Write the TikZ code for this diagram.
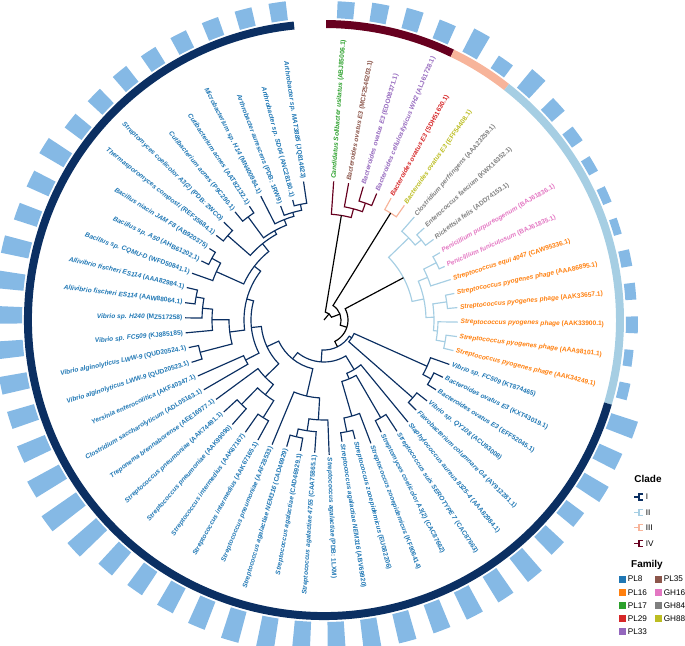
\documentclass[tikz,border=0pt]{standalone}
\usepackage{fontspec}
\setmainfont{Liberation Sans}
\usepackage{tikz}

\definecolor{cladeI}{HTML}{0B2F62}
\definecolor{cladeII}{HTML}{A6CEE3}
\definecolor{cladeIII}{HTML}{F7B49A}
\definecolor{cladeIV}{HTML}{67001F}
\definecolor{barBlue}{HTML}{85B9E5}
\definecolor{famPL8}{HTML}{1F77B4}
\definecolor{famPL16}{HTML}{FF7F0E}
\definecolor{famPL17}{HTML}{2CA02C}
\definecolor{famPL29}{HTML}{D62728}
\definecolor{famPL33}{HTML}{9467BD}
\definecolor{famPL35}{HTML}{8C564B}
\definecolor{famGH16}{HTML}{E377C2}
\definecolor{famGH84}{HTML}{7F7F7F}
\definecolor{famGH88}{HTML}{BCBD22}

\begin{document}
\begin{tikzpicture}[x=0.03cm, y=0.03cm,
    leaflabel/.style={inner sep=0.4pt, font=\fontsize{5.6}{6.5}\selectfont\bfseries},
    lineI/.style={draw=cladeI, line width=1pt},
    lineII/.style={draw=cladeII, line width=1pt},
    lineIII/.style={draw=cladeIII, line width=1pt},
    lineIV/.style={draw=cladeIV, line width=1pt},
    rootline/.style={draw=black, line width=1pt},
    ring/.style={line width=6.8pt},
    barfill/.style={fill=barBlue},
    legtitle/.style={font=\fontsize{8.5}{10}\selectfont\bfseries},
    legtext/.style={font=\fontsize{7}{8}\selectfont, inner sep=0.5pt}]

    \useasboundingbox (-324,-325) rectangle (361,320);
    \clip (-324,-325) rectangle (361,320);

    % leaf i sits at 86 - (i-1)*360/58 degrees
    \newcommand{\treeLeaf}[5]{%
        \pgfmathsetmacro{\leafA}{86-6.206897*(#1-1)}%
        \expandafter\xdef\csname treeAngt#1\endcsname{\leafA}%
        \expandafter\xdef\csname treeRadt#1\endcsname{#2}%
        \coordinate (t#1) at (\leafA:#2);%
        \pgfmathtruncatemacro{\leafSide}{cos(\leafA)<0 ? 1 : 0}%
        \ifnum\leafSide=1
            \pgfmathsetmacro{\leafRot}{\leafA+180}%
            \node[leaflabel, text=#3, anchor=east, rotate=\leafRot] (l#1) at (\leafA:#2+2) {\textit{#4} (#5)};%
        \else
            \node[leaflabel, text=#3, anchor=west, rotate=\leafA] (l#1) at (\leafA:#2+2) {\textit{#4} (#5)};%
        \fi}

    % inner node: name, child, child, radius, style
    \newcommand{\treeJoin}[5]{%
        \edef\joinA{\csname treeAng#2\endcsname}%
        \edef\joinB{\csname treeAng#3\endcsname}%
        \pgfmathsetmacro{\joinM}{(\joinA+\joinB)/2}%
        \expandafter\xdef\csname treeAng#1\endcsname{\joinM}%
        \expandafter\xdef\csname treeRad#1\endcsname{#4}%
        \coordinate (#1) at (\joinM:#4);%
        \draw[#5] (#2) -- (\joinA:#4) arc[start angle=\joinA, end angle=\joinB, radius=#4] -- (#3);}

    % bars
    \foreach \k/\len in {1/17,2/19,3/21,4/20,5/26,6/15,7/24,8/17,9/13,10/10,11/9,12/8,13/11,14/11,15/12,16/9,17/11,
        18/28,19/25,20/28,21/22,22/25,23/30,24/30,25/30,26/30,27/30,28/32,29/32,30/32,31/32,32/32,33/30,34/28,
        35/28,36/30,37/38,38/42,39/36,40/30,41/28,42/28,43/28,44/28,45/28,46/28,47/24,48/24,49/28,50/21,51/20,
        52/20,53/19,54/19,55/19,56/19,57/19} {
        \pgfmathsetmacro{\barS}{86-6.206897*(\k-1)-1.55}
        \pgfmathsetmacro{\barE}{86-6.206897*(\k-1)+1.55}
        \pgfmathsetmacro{\barOut}{302+\len}
        \fill[barfill] (\barS:302) arc[start angle=\barS, end angle=\barE, radius=302]
            -- (\barE:\barOut) arc[start angle=\barE, end angle=\barS, radius=\barOut] -- cycle;
    }

    % clade ring
    \draw[ring, cladeIV] (89.6:296) arc[start angle=89.6, end angle=64.3, radius=296];
    \draw[ring, cladeIII] (64.3:296) arc[start angle=64.3, end angle=51.9, radius=296];
    \draw[ring, cladeII] (51.9:296) arc[start angle=51.9, end angle=-16.4, radius=296];
    \draw[ring, cladeI] (-16.4:296) arc[start angle=-16.4, end angle=-264.2, radius=296];

    % leaves
    \treeLeaf{1}{139}{famPL17}{Candidatus Solibacter usitatus}{ABJ85006.1}
    \treeLeaf{2}{139}{famPL35}{Bacteroides ovatus E3}{MCF2546203.1}
    \treeLeaf{3}{139}{famPL33}{Bacteroides ovatus E3}{EDO08371.1}
    \treeLeaf{4}{137}{famPL33}{Bacteroides cellulosilyticus WH2}{ALJ61728.1}
    \treeLeaf{5}{139}{famPL29}{Bacteroides ovatus E3}{SDH51630.1}
    \treeLeaf{6}{140}{famGH88}{Bacteroides ovatus E3}{EFF54408.1}
    \treeLeaf{7}{137}{famGH84}{Clostridium perfringens}{AAA23259.1}
    \treeLeaf{8}{136}{famGH84}{Enterococcus faecium}{KWX16352.1}
    \treeLeaf{9}{136}{famGH84}{Rickettsia felis}{ADD74153.1}
    \treeLeaf{10}{134}{famGH16}{Penicillium purpureogenum}{BAJ61836.1}
    \treeLeaf{11}{132}{famGH16}{Penicillium funiculosum}{BAJ61835.1}
    \treeLeaf{12}{133}{famPL16}{Streptococcus equi 4047}{CAW95336.1}
    \treeLeaf{13}{133}{famPL16}{Streptococcus pyogenes phage}{AAA86895.1}
    \treeLeaf{14}{134}{famPL16}{Streptococcus pyogenes phage}{AAK33657.1}
    \treeLeaf{15}{134}{famPL16}{Streptococcus pyogenes phage}{AAK33900.1}
    \treeLeaf{16}{134}{famPL16}{Streptococcus pyogenes phage}{AAA98101.1}
    \treeLeaf{17}{133}{famPL16}{Streptococcus pyogenes phage}{AAK34249.1}
    \treeLeaf{18}{133}{famPL8}{Vibrio sp. FC509}{KT874465}
    \treeLeaf{19}{132}{famPL8}{Bacteroides ovatus E3}{KXT43019.1}
    \treeLeaf{20}{132}{famPL8}{Bacteroides ovatus E3}{EFF52045.1}
    \treeLeaf{21}{131}{famPL8}{Vibrio sp. QY108}{ACU93008}
    \treeLeaf{22}{129}{famPL8}{Flavobacterium columnare G4}{AY912281.1}
    \treeLeaf{23}{132}{famPL8}{Staphylococcus aureus 8325-4}{AAA82984.1}
    \treeLeaf{24}{133}{famPL8}{Streptococcus suis SEROTYPE 7}{CAC87663}
    \treeLeaf{25}{126}{famPL8}{Streptomyces coelicolor A3(2)}{CAC87662}
    \treeLeaf{26}{132}{famPL8}{Streptococcus zooepidemicus}{KF906414}
    \treeLeaf{27}{123}{famPL8}{Streptococcus zooepidemicus}{EU082206}
    \treeLeaf{28}{123}{famPL8}{Streptococcus agalactiae NEM316}{ABV69920}
    \treeLeaf{29}{135}{famPL8}{Streptococcus agalactiae}{PDB: 1LXM}
    \treeLeaf{30}{133}{famPL8}{Streptococcus agalactiae 4755}{CAA75865.1}
    \treeLeaf{31}{133}{famPL8}{Streptococcus agalactiae}{CAD46929.1}
    \treeLeaf{32}{132}{famPL8}{Streptococcus agalactiae NEM316}{CAD46929}
    \treeLeaf{33}{135}{famPL8}{Streptococcus pneumoniae}{AAF28533}
    \treeLeaf{34}{137}{famPL8}{Streptococcus intermedius}{AAK67165.1}
    \treeLeaf{35}{137}{famPL8}{Streptococcus intermedius}{AAK67167}
    \treeLeaf{36}{139}{famPL8}{Streptococcus pneumoniae}{AAK99090}
    \treeLeaf{37}{136}{famPL8}{Streptococcus pneumoniae}{AAK74491.1}
    \treeLeaf{38}{134}{famPL8}{Treponema brennaborense}{AEE16977.1}
    \treeLeaf{39}{139}{famPL8}{Clostridium saccharolyticum}{ADL05163.1}
    \treeLeaf{40}{138}{famPL8}{Yersinia enterocolitica}{AKF40347.1}
    \treeLeaf{41}{139}{famPL8}{Vibrio alginolyticus LWW-9}{QUD20523.1}
    \treeLeaf{42}{138}{famPL8}{Vibrio alginolyticus LWW-9}{QUD20524.1}
    \treeLeaf{43}{139}{famPL8}{Vibrio sp. FC509}{KJ885185}
    \treeLeaf{44}{139}{famPL8}{Vibrio sp. H240}{MZ517258}
    \treeLeaf{45}{140}{famPL8}{Allivibrio fischeri ES114}{AAW88064.1}
    \treeLeaf{46}{141}{famPL8}{Allivibrio fischeri ES114}{AAA82984.1}
    \treeLeaf{47}{140}{famPL8}{Bacillus sp. CQMU-D}{WFD50841.1}
    \treeLeaf{48}{136}{famPL8}{Bacillus sp. A50}{AHB61202.1}
    \treeLeaf{49}{135}{famPL8}{Bacillus niacin JAM F8}{AB920375}
    \treeLeaf{50}{137}{famPL8}{Thermasporomyces composti}{REF35684.1}
    \treeLeaf{51}{140}{famPL8}{Streptomyces coelicolor A3(2)}{PDB: 2WCO}
    \treeLeaf{52}{140}{famPL8}{Cutibacterium acnes}{P9C290.1}
    \treeLeaf{53}{136}{famPL8}{Cutibacterium acnes}{AAT82132.1}
    \treeLeaf{54}{139}{famPL8}{Microbacterium sp. H14}{MN400984.1}
    \treeLeaf{55}{122}{famPL8}{Arthrobacter aurescens}{PDB: 1RW9}
    \treeLeaf{56}{124}{famPL8}{Arthrobacter sp. SD04}{ANC28180.1}
    \treeLeaf{57}{140}{famPL8}{Arthrobacter sp. MAT3885}{JQ814623}

    % clade IV
    \treeJoin{n34}{t3}{t4}{124}{lineIV}
    \treeJoin{n24}{t2}{n34}{115}{lineIV}
    \treeJoin{nIV}{t1}{n24}{106}{lineIV}
    % clade III
    \treeJoin{nIII}{t5}{t6}{126}{lineIII}
    % clade II
    \treeJoin{n89}{t8}{t9}{126}{lineII}
    \treeJoin{n79}{t7}{n89}{118}{lineII}
    \treeJoin{n1011}{t10}{t11}{126}{lineII}
    \treeJoin{n1012}{n1011}{t12}{112}{lineII}
    \treeJoin{n1314}{t13}{t14}{124}{lineII}
    \treeJoin{n1617}{t16}{t17}{123}{lineII}
    \treeJoin{n1517}{t15}{n1617}{114}{lineII}
    \treeJoin{n1317}{n1314}{n1517}{110}{lineII}
    \treeJoin{n1017}{n1012}{n1317}{102}{lineII}
    \treeJoin{nII}{n79}{n1017}{90}{lineII}
    % clade I
    \treeJoin{n1920}{t19}{t20}{122}{lineI}
    \treeJoin{n1820}{t18}{n1920}{113}{lineI}
    \treeJoin{n2122}{t21}{t22}{118}{lineI}
    \treeJoin{nP}{n1820}{n2122}{33}{lineI}
    \treeJoin{n2425}{t24}{t25}{113}{lineI}
    \treeJoin{n2728}{t27}{t28}{114}{lineI}
    \treeJoin{n2628}{t26}{n2728}{100}{lineI}
    \treeJoin{n2428}{n2425}{n2628}{64}{lineI}
    \treeJoin{nQa}{t23}{n2428}{58}{lineI}
    \treeJoin{n3132}{t31}{t32}{120}{lineI}
    \treeJoin{n3032}{t30}{n3132}{112}{lineI}
    \treeJoin{n2932}{t29}{n3032}{100}{lineI}
    \treeJoin{nB}{n2932}{t33}{78}{lineI}
    \treeJoin{n3435}{t34}{t35}{115}{lineI}
    \treeJoin{n3637}{t36}{t37}{118}{lineI}
    \treeJoin{n3437}{n3435}{n3637}{95}{lineI}
    \treeJoin{nC}{n3437}{t38}{82}{lineI}
    \treeJoin{nD}{t39}{t40}{88}{lineI}
    \treeJoin{n4142}{t41}{t42}{128}{lineI}
    \treeJoin{n4546}{t45}{t46}{130}{lineI}
    \treeJoin{n4446}{t44}{n4546}{122}{lineI}
    \treeJoin{n4346}{t43}{n4446}{112}{lineI}
    \treeJoin{nE}{n4142}{n4346}{95}{lineI}
    \treeJoin{n4849}{t48}{t49}{128}{lineI}
    \treeJoin{nF}{t47}{n4849}{118}{lineI}
    \treeJoin{n5051}{t50}{t51}{128}{lineI}
    \treeJoin{n5253}{t52}{t53}{128}{lineI}
    \treeJoin{n5657}{t56}{t57}{118}{lineI}
    \treeJoin{n5557}{t55}{n5657}{112}{lineI}
    \treeJoin{n5457}{t54}{n5557}{108}{lineI}
    \treeJoin{n5257}{n5253}{n5457}{102}{lineI}
    \treeJoin{nG}{n5051}{n5257}{98}{lineI}
    \treeJoin{nQ6}{nF}{nG}{88}{lineI}
    \treeJoin{nQ5}{nE}{nQ6}{80}{lineI}
    \treeJoin{nQ4}{nD}{nQ5}{73}{lineI}
    \treeJoin{nQ3}{nC}{nQ4}{63}{lineI}
    \treeJoin{nQ2}{nB}{nQ3}{50}{lineI}
    \treeJoin{nQ}{nQa}{nQ2}{42}{lineI}
    \treeJoin{nI}{nP}{nQ}{30}{lineI}
    % backbone
    \treeJoin{nRc}{nII}{nI}{24}{rootline}
    \treeJoin{nRb}{nIII}{nRc}{17}{rootline}
    \treeJoin{nRa}{nIV}{nRb}{8}{rootline}
    \coordinate (root) at (0,0);
    \draw[rootline] (root) -- (nRa);

    % legend: clade
    \node[legtitle] (cladeTitle) at (324,-159) {Clade};
    \foreach \i/\c/\t in {0/cladeI/I, 1/cladeII/II, 2/cladeIII/III, 3/cladeIV/IV} {
        \pgfmathsetmacro{\legY}{-177-15.4*\i}
        \draw[\c, line width=0.9pt] (310,\legY) -- (315,\legY)
            (319,\legY+3) -- (315,\legY+3) -- (315,\legY-3) -- (319,\legY-3);
        \node[legtext, anchor=west] (clade\t) at (321,\legY) {\t};
    }

    % legend: family
    \node[legtitle] (familyTitle) at (323,-245) {Family};
    \foreach \cx/\r/\t in {0/0/PL8, 0/1/PL16, 0/2/PL17, 0/3/PL29, 0/4/PL33, 1/0/PL35, 1/1/GH16, 1/2/GH84, 1/3/GH88} {
        \pgfmathsetmacro{\famX}{298+36*\cx}
        \pgfmathsetmacro{\famY}{-259-13.2*\r}
        \fill[fam\t] (\famX-3.5,\famY-3.5) rectangle (\famX+3.5,\famY+3.5);
        \node[legtext, anchor=west] (fam\t) at (\famX+5,\famY) {\t};
    }

\end{tikzpicture}
\end{document}
